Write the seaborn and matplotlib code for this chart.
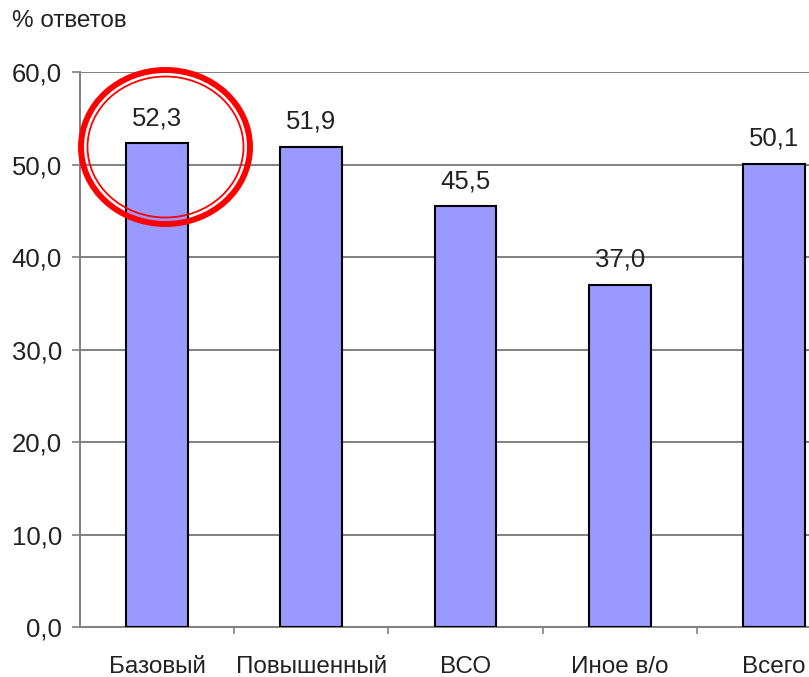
import matplotlib
matplotlib.use("Agg")
import matplotlib.pyplot as plt
from matplotlib.patches import Ellipse
from matplotlib.ticker import FuncFormatter, FixedLocator
import seaborn as sns
import pandas as pd

categories = ["Базовый", "Повышенный", "ВСО", "Иное в/о", "Всего"]
values = [52.3, 51.9, 45.5, 37.0, 50.1]

sns.set_theme(style="white")
plt.rcParams['font.family'] = ['Liberation Sans', 'DejaVu Sans']

W, H = 809, 677
fig = plt.figure(figsize=(W / 100, H / 100), dpi=100)
ax_left, ax_right, ax_top, ax_bottom = 80, 851, 72, 627
ax = fig.add_axes([ax_left / W, 1 - ax_bottom / H, (ax_right - ax_left) / W, (ax_bottom - ax_top) / H])

df = pd.DataFrame({"cat": categories, "val": values})
sns.barplot(data=df, x="cat", y="val", ax=ax, color="#9999FF", saturation=1,
            width=0.4, edgecolor="black", linewidth=1.5, zorder=3)

ax.set_xlim(-0.5, len(categories) - 0.5)
ax.set_ylim(0, 60)
ax.set_yticks(range(0, 61, 10))
ax.yaxis.set_major_formatter(FuncFormatter(lambda v, p: f"{v:.1f}".replace(".", ",")))
ax.yaxis.grid(True, color="#808080", linewidth=1.4, zorder=0)
ax.set_axisbelow(True)
ax.set_xlabel("")
ax.set_ylabel("")

for s in ["top", "right"]:
    ax.spines[s].set_visible(False)
for s in ["left", "bottom"]:
    ax.spines[s].set_color("#808080")
    ax.spines[s].set_linewidth(1.4)

ax.tick_params(axis="y", left=True, length=6, width=1.2, color="#808080",
               labelsize=18.5, pad=7, labelcolor="#222222")
ax.tick_params(axis="x", which="major", bottom=False, labelsize=17.5, pad=15,
               labelcolor="#222222")
ax.xaxis.set_minor_locator(FixedLocator([i + 0.5 for i in range(len(categories))]))
ax.tick_params(axis="x", which="minor", bottom=True, length=5, width=1.2, color="#808080")

for i, v in enumerate(values):
    ax.text(i, v + 1.4, f"{v:.1f}".replace(".", ","), ha="center", va="bottom",
            fontsize=18.5, color="#222222")

fig.text(12 / W, 1 - 21 / H, "% ответов", fontsize=17.5, va="center", ha="left",
         color="#222222")

cx, cy = 165.5 / W, 1 - 147 / H
fig.add_artist(Ellipse((cx, cy), 169 / W, 154 / H, transform=fig.transFigure,
                       fill=False, edgecolor="red", linewidth=4.3, zorder=10))
fig.add_artist(Ellipse((cx, cy), 156 / W, 141 / H, transform=fig.transFigure,
                       fill=False, edgecolor="red", linewidth=1.3, zorder=10))

fig.savefig("out.png", dpi=100)
